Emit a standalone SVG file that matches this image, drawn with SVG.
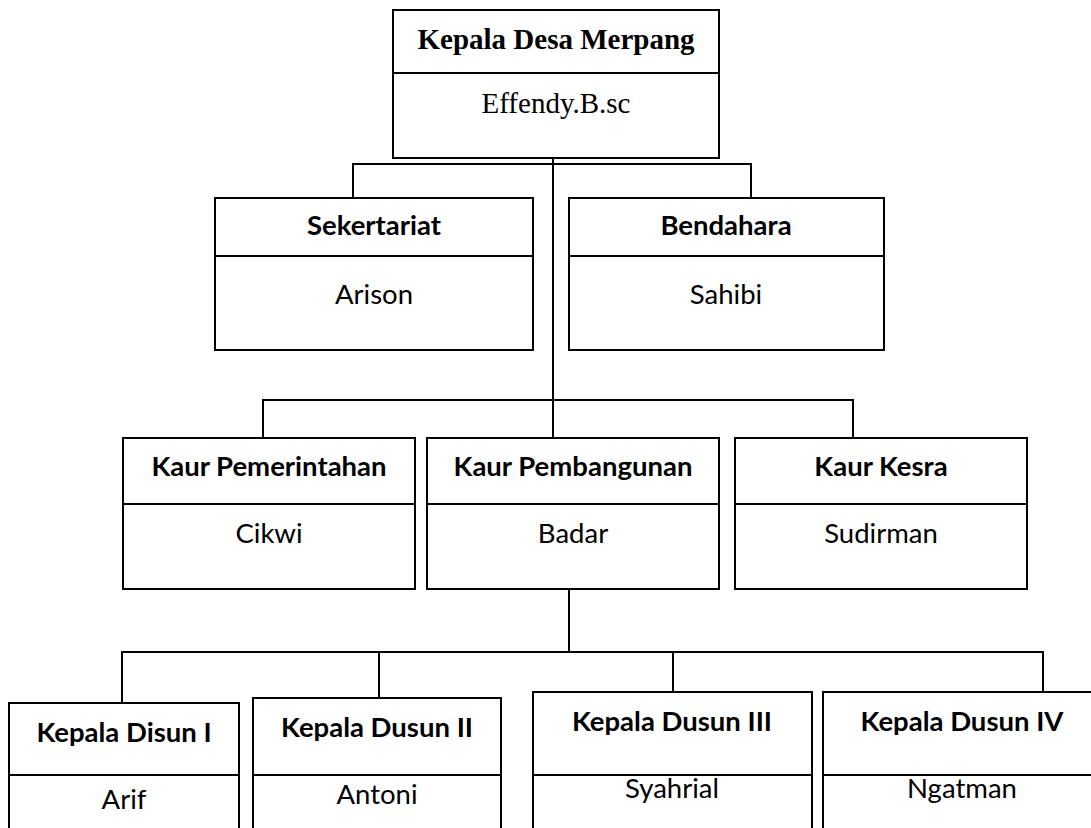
<svg xmlns="http://www.w3.org/2000/svg" width="1091" height="828" viewBox="0 0 1091 828">
<style>
.box{fill:#fff;stroke:#000;stroke-width:2}
.div{stroke:#000;stroke-width:2}
.con{fill:none;stroke:#000;stroke-width:2}
.t{font-family:Lato,"Open Sans",sans-serif;font-size:27.5px;font-weight:bold;text-anchor:middle;fill:#000}
.n{font-family:Lato,"Open Sans",sans-serif;font-size:27.5px;text-anchor:middle;fill:#000}
.st{font-family:"Liberation Serif","Times New Roman",serif;font-size:29px;font-weight:bold;text-anchor:middle;fill:#000}
.sn{font-family:"Liberation Serif","Times New Roman",serif;font-size:29px;text-anchor:middle;fill:#000}
</style>
<rect width="1091" height="828" fill="#fff"/>
<g id="connectors">
<path class="con" d="M553 158V438"/>
<path class="con" d="M353 198V164H751V198"/>
<path class="con" d="M263 438V400H853V438"/>
<path class="con" d="M569 589V652"/>
<path class="con" d="M122 703V652H1043V692"/>
<path class="con" d="M379 652V698"/>
<path class="con" d="M673 652V692"/>
</g>
<g id="kepala-desa">
<rect class="box" x="393" y="10" width="326" height="148"/>
<line class="div" x1="393" y1="73" x2="719" y2="73"/>
<text class="st" x="556" y="49">Kepala Desa Merpang</text>
<text class="sn" x="556" y="113">Effendy.B.sc</text>
</g>
<g id="sekertariat">
<rect class="box" x="215" y="198" width="318" height="152"/>
<line class="div" x1="215" y1="256" x2="533" y2="256"/>
<text class="t" x="374" y="235">Sekertariat</text>
<text class="n" x="374" y="304">Arison</text>
</g>
<g id="bendahara">
<rect class="box" x="569" y="198" width="315" height="152"/>
<line class="div" x1="569" y1="256" x2="884" y2="256"/>
<text class="t" x="726" y="235">Bendahara</text>
<text class="n" x="726" y="304">Sahibi</text>
</g>
<g id="kaur-pemerintahan">
<rect class="box" x="123" y="438" width="292" height="151"/>
<line class="div" x1="123" y1="504" x2="415" y2="504"/>
<text class="t" x="269" y="476">Kaur Pemerintahan</text>
<text class="n" x="269" y="543">Cikwi</text>
</g>
<g id="kaur-pembangunan">
<rect class="box" x="427" y="438" width="292" height="151"/>
<line class="div" x1="427" y1="504" x2="719" y2="504"/>
<text class="t" x="573" y="476">Kaur Pembangunan</text>
<text class="n" x="573" y="543">Badar</text>
</g>
<g id="kaur-kesra">
<rect class="box" x="735" y="438" width="292" height="151"/>
<line class="div" x1="735" y1="504" x2="1027" y2="504"/>
<text class="t" x="881" y="476">Kaur Kesra</text>
<text class="n" x="881" y="543">Sudirman</text>
</g>
<g id="dusun-1">
<rect class="box" x="9" y="703" width="230" height="140"/>
<line class="div" x1="9" y1="775" x2="239" y2="775"/>
<text class="t" x="124" y="742">Kepala Disun I</text>
<text class="n" x="124" y="809">Arif</text>
</g>
<g id="dusun-2">
<rect class="box" x="253" y="698" width="248" height="145"/>
<line class="div" x1="253" y1="775" x2="501" y2="775"/>
<text class="t" x="377" y="737">Kepala Dusun II</text>
<text class="n" x="377" y="804">Antoni</text>
</g>
<g id="dusun-3">
<rect class="box" x="533" y="692" width="279" height="151"/>
<line class="div" x1="533" y1="775" x2="812" y2="775"/>
<text class="t" x="672" y="731">Kepala Dusun III</text>
<text class="n" x="672" y="798">Syahrial</text>
</g>
<g id="dusun-4">
<rect class="box" x="823" y="692" width="275" height="151"/>
<line class="div" x1="823" y1="775" x2="1098" y2="775"/>
<text class="t" x="962" y="731">Kepala Dusun IV</text>
<text class="n" x="962" y="798">Ngatman</text>
</g>
</svg>
